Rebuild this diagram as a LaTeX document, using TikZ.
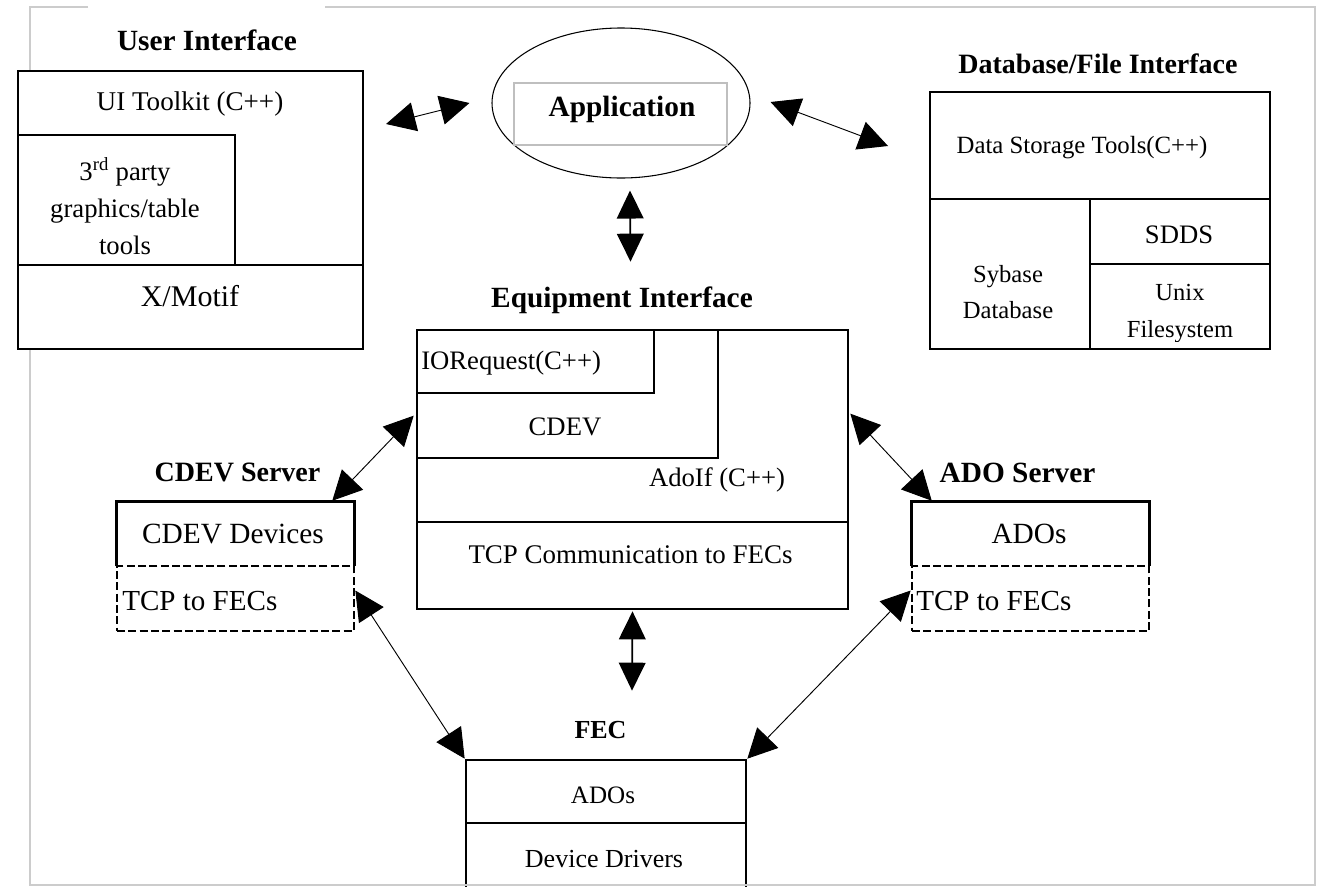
\documentclass[tikz,border=0pt]{standalone}
\usepackage{fontspec}
\setmainfont{Liberation Serif}
\usetikzlibrary{arrows.meta,calc,fit,shapes.geometric}

\tikzset{
  frameline/.style={draw=black!20, line width=1pt},
  cell/.style={draw, line width=#1, inner sep=0pt, fill=white},
  cell/.default=1.5pt,
  dashcell/.style={cell=2pt, dash pattern=on 6pt off 2.5pt},
  txt/.style={inner sep=0pt, anchor=base, font=\fontsize{#1}{#1}\selectfont},
  ttl/.style={inner sep=0pt, anchor=base, font=\fontsize{#1}{#1}\selectfont\bfseries},
  link/.style={{Triangle[length=22pt,width=22pt]}-{Triangle[length=22pt,width=22pt]}, line width=0.7pt},
  biglink/.style={{Triangle[length=21pt,width=20pt]}-{Triangle[length=21pt,width=20pt]}, line width=1.3pt}
}

\begin{document}
\begin{tikzpicture}[x=0.75pt,y=-0.75pt]
\useasboundingbox (0,0) rectangle (1323,886);
\clip (0,0) rectangle (1323,886);

% light outer frame
\draw[frameline] (88,7) -- (30,7) -- (30,885) -- (1315,885) -- (1315,7) -- (325,7);

% ---------------- User Interface
\node[ttl=22] (uititle) at (207,50) {User Interface};
\node[cell, fit={(18,71)(363,349)}] (ui) {};
\node[cell, fit={(18,135)(235,265)}] (party) {};
\node[cell, fit={(18,265)(363,349)}] (motif) {};
\node[txt=20.3] (uitk) at (190,110) {UI Toolkit (C++)};
\node[inner sep=0pt, align=center, font=\fontsize{20}{28}\selectfont] (partytxt) at (125,206)
  {3\textsuperscript{rd} party\\graphics/table\\tools};
\node[txt=22.5] (motiftxt) at (190,306) {X/Motif};

% ---------------- Application
\node[draw, ellipse, line width=0.8pt, minimum width=193.5pt, minimum height=112.5pt, inner sep=0pt] (app) at (621,103) {};
\node[draw=black!25, line width=0.8pt, inner sep=0pt, fit={(514,83)(727,145)}] (appbox) {};
\node[ttl=22] (apptxt) at (622,116) {Application};

% ---------------- Database/File Interface
\node[ttl=21] (dbtitle) at (1098,73) {Database/File Interface};
\node[cell, fit={(930,92)(1270,349)}] (db) {};
\node[cell, fit={(930,92)(1270,199)}] (dst) {};
\node[cell, fit={(930,199)(1090,349)}] (syb) {};
\node[cell, fit={(1090,199)(1270,264)}] (sdds) {};
\node[cell, fit={(1090,264)(1270,349)}] (unix) {};
\node[txt=18.6] (dsttxt) at (1082,153) {Data Storage Tools(C++)};
\node[inner sep=0pt, align=center, font=\fontsize{18.5}{27}\selectfont] (sybtxt) at (1008,292) {Sybase\\Database};
\node[txt=20] (sddstxt) at (1179,243) {SDDS};
\begin{scope}
  \clip (1092,266) rectangle (1268,341.5);
  \node[inner sep=0pt, align=center, font=\fontsize{18.4}{27.75}\selectfont] (unixtxt) at (1180,313.5) {Unix\\Filesystem};
\end{scope}

% ---------------- Equipment Interface
\node[ttl=22] (eititle) at (622,307) {Equipment Interface};
\node[cell=2pt, fit={(417,330)(848,609)}] (ei) {};
\node[cell=2pt, fit={(417,330)(718,458)}] (cdevl) {};
\node[cell=2pt, fit={(417,330)(654,393)}] (ioreq) {};
\node[cell=2pt, fit={(417,522)(848,609)}] (tcpc) {};
\node[txt=20, anchor=base west] (ioreqtxt) at (421,369) {IORequest(C++)};
\node[txt=20] (cdevltxt) at (565,435) {CDEV};
\node[txt=20] (adoiftxt) at (717,486) {AdoIf (C++)};
\node[txt=20.2] (tcpctxt) at (630.5,563) {TCP Communication to FECs};

% ---------------- CDEV Server
\node[ttl=21] (cdevtitle) at (237.5,481) {CDEV Server};
\node[inner sep=0pt, fill=white, fit={(117,502)(354,566)}] (cdevdev) {};
\draw[line width=2pt] (cdevdev.south west) |- (cdevdev.north east) -- (cdevdev.south east);
\node[dashcell, fit={(117,566)(354,631)}] (cdevtcp) {};
\node[txt=22] (cdevdevtxt) at (233,543) {CDEV Devices};
\node[txt=21.8, anchor=base west] (cdevtcptxt) at (122,610) {TCP to FECs};

% ---------------- ADO Server
\node[ttl=22] (adotitle) at (1017.5,482) {ADO Server};
\node[inner sep=0pt, fill=white, fit={(912,502)(1149,566)}] (adodev) {};
\draw[line width=2pt] (adodev.south west) |- (adodev.north east) -- (adodev.south east);
\node[dashcell, fit={(912,566)(1149,631)}] (adotcp) {};
\node[txt=22] (adodevtxt) at (1029,543) {ADOs};
\node[txt=21.8, anchor=base west] (adotcptxt) at (916,610) {TCP to FECs};

% ---------------- FEC
\node[ttl=19.5] (fectitle) at (600.5,738) {FEC};
\node[cell=2pt, fit={(466,760)(746,823)}] (fecado) {};
\node[cell=2pt, fit={(466,823)(746,900)}] (fecdrv) {};
\node[txt=18.8] (fecadotxt) at (603,803) {ADOs};
\node[txt=19.5] (fecdrvtxt) at (604,867) {Device Drivers};
\draw[frameline] (30,885) -- (1315,885);

% ---------------- connectors
\draw[link] ($(ui.north east)+(22,54)$) -- ($(app.west)+(-22,0)$);
\draw[link] ($(app.east)+(20,-1)$) -- ($(db.north west)+(-41,55)$);
\draw[biglink] ($(app.south)+(9,12)$) -- ($(ei.north)+(-2,-67)$);
\draw[link] ($(ei.north west)+(-2,87)$) -- ($(cdevdev.north east)+(-22,-1)$);
\draw[link] ($(ei.north east)+(1,85)$) -- ($(adodev.north west)+(20,-1)$);
\draw[biglink] ($(ei.south)+(0,1)$) -- ($(fecado.north)+(26,-68)$);
\draw[link] ($(cdevtcp.east)+(0,-8)$) -- (fecado.north west);
\draw[link] ($(adotcp.west)+(0,-8)$) -- (fecado.north east);
\end{tikzpicture}
\end{document}
